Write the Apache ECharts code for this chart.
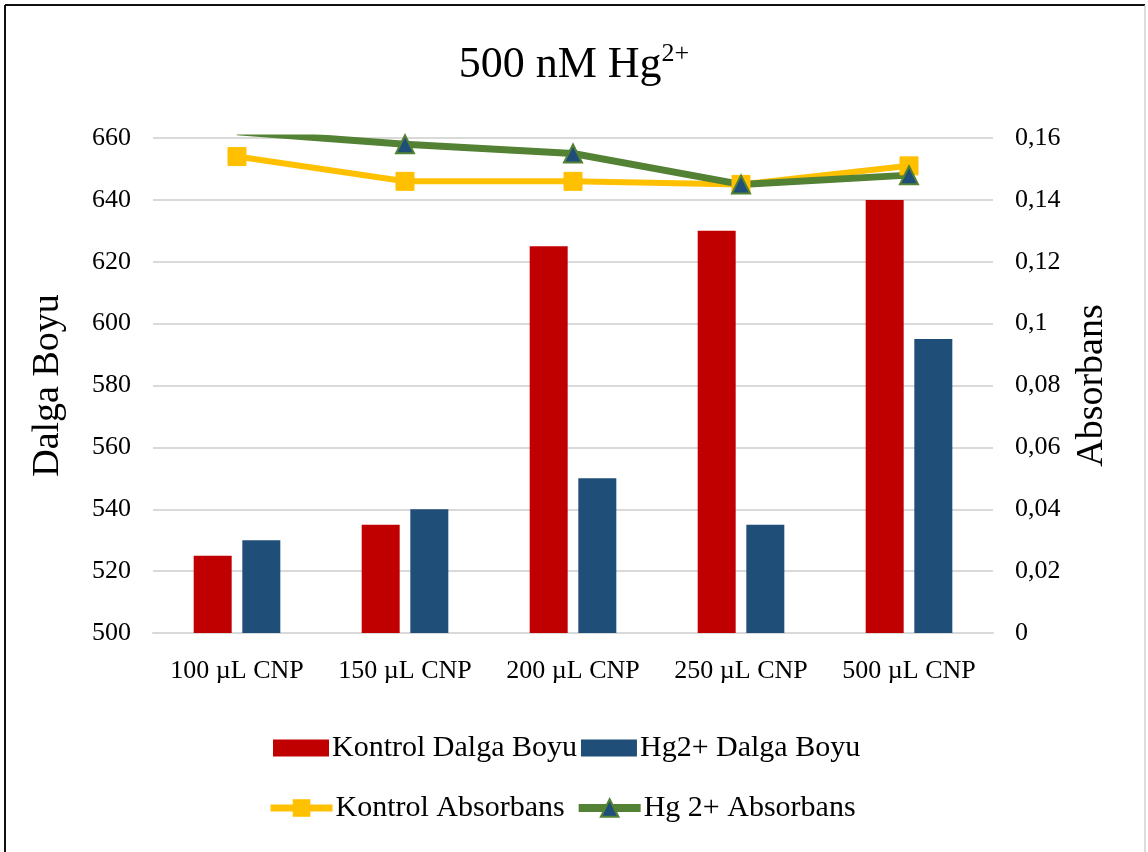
<!DOCTYPE html>
<html><head><meta charset="utf-8">
<script src="https://cdn.jsdelivr.net/npm/echarts@6/dist/echarts.min.js"></script>
<style>html,body{margin:0;padding:0;background:#fff}#c{width:1148px;height:852px}</style>
</head><body><div id="c"></div>
<script>
const categories = ['100 µL CNP','150 µL CNP','200 µL CNP','250 µL CNP','500 µL CNP'];
const kontrolDalga = [525, 535, 625, 630, 640];
const hgDalga = [530, 540, 550, 535, 595];
const kontrolAbs = [0.154, 0.146, 0.146, 0.145, 0.151];
const hgAbs = [0.162, 0.158, 0.155, 0.145, 0.148];

const serif = '"Liberation Serif", "Times New Roman", serif';
const chart = echarts.init(document.getElementById('c'));
chart.setOption({
  animation: false,
  backgroundColor: '#fff',
  title: {
    text: '{m|500 nM Hg}{s|2+}',
    left: 'center', top: 36,
    textStyle: { rich: {
      m: { fontFamily: serif, fontSize: 44, fontWeight: 'normal', color: '#000' },
      s: { fontFamily: serif, fontSize: 26, fontWeight: 'normal', color: '#000', verticalAlign: 'top', padding: [0,0,22,0] }
    }}
  },
  graphic: [
    { type: 'line', shape: { x1: 5, y1: 5, x2: 1145, y2: 5 }, style: { stroke: '#111', lineWidth: 2 } },
    { type: 'line', shape: { x1: 5, y1: 5, x2: 5, y2: 852 }, style: { stroke: '#111', lineWidth: 2 } },
    { type: 'line', shape: { x1: 1145, y1: 5, x2: 1145, y2: 852 }, style: { stroke: '#bbb', lineWidth: 1 } }
  ],
  grid: { left: 153, right: 155, top: 138, bottom: 219 },
  legend: [
    { data: [{ name: 'Kontrol Dalga Boyu', icon: 'rect' }, { name: 'Hg2+ Dalga Boyu', icon: 'rect' }],
      left: 268, top: 728, itemWidth: 56, itemHeight: 17, itemGap: 4,
      textStyle: { fontFamily: serif, fontSize: 30, color: '#000', padding: [0,0,0,-2] } },
    { data: [{ name: 'Kontrol Absorbans', lineStyle: { width: 7 } }, { name: 'Hg 2+ Absorbans', lineStyle: { width: 8 } }],
      left: 262, top: 788, itemWidth: 62, itemHeight: 22, itemGap: 10,
      textStyle: { fontFamily: serif, fontSize: 30, color: '#000', padding: [0,0,0,-2] } }
  ],
  xAxis: {
    type: 'category', data: categories, boundaryGap: true,
    axisLine: { lineStyle: { color: '#d9d9d9', width: 2 } },
    axisTick: { show: false },
    axisLabel: { fontFamily: serif, fontSize: 26, color: '#000', margin: 25, interval: 0 }
  },
  yAxis: [
    { type: 'value', min: 500, max: 660, interval: 20, position: 'left',
      name: 'Dalga Boyu', nameLocation: 'middle', nameRotate: 90, nameGap: 86,
      nameTextStyle: { fontFamily: serif, fontSize: 38, color: '#000' },
      axisLine: { show: false }, axisTick: { show: false },
      axisLabel: { fontFamily: serif, fontSize: 26, color: '#000', margin: 22 },
      splitLine: { lineStyle: { color: '#d9d9d9', width: 2 } } },
    { type: 'value', min: 0, max: 0.16, interval: 0.02, position: 'right',
      name: 'Absorbans', nameLocation: 'middle', nameRotate: 90, nameGap: 80,
      nameTextStyle: { fontFamily: serif, fontSize: 38, color: '#000' },
      axisLine: { show: false }, axisTick: { show: false },
      axisLabel: { fontFamily: serif, fontSize: 26, color: '#000', margin: 22,
        formatter: v => String(Math.round(v * 100) / 100).replace('.', ',') },
      splitLine: { show: false } }
  ],
  series: [
    { name: 'Kontrol Dalga Boyu', type: 'bar', data: kontrolDalga, yAxisIndex: 0,
      barWidth: 38, barGap: '28%', itemStyle: { color: '#C00000' } },
    { name: 'Hg2+ Dalga Boyu', type: 'bar', data: hgDalga, yAxisIndex: 0,
      barWidth: 38, itemStyle: { color: '#1F4E79' } },
    { name: 'Kontrol Absorbans', type: 'line', data: kontrolAbs, yAxisIndex: 1, clip: true,
      symbol: 'rect', symbolSize: 18, lineStyle: { color: '#FFC000', width: 6 },
      itemStyle: { color: '#FFC000', borderColor: '#FFC000' } },
    { name: 'Hg 2+ Absorbans', type: 'line', data: hgAbs, yAxisIndex: 1, clip: true,
      symbol: 'triangle', symbolSize: 18, lineStyle: { color: '#548235', width: 7 },
      itemStyle: { color: '#1F4E79', borderColor: '#548235', borderWidth: 2 } }
  ]
});
</script></body></html>
